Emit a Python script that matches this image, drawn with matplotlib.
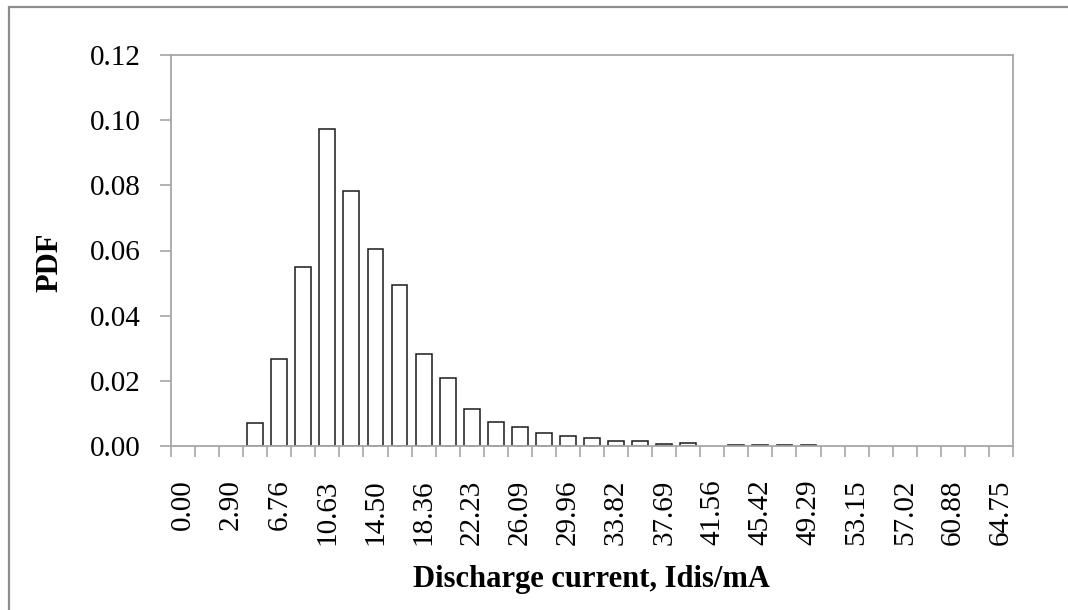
import numpy as np
import matplotlib
matplotlib.use("Agg")
import matplotlib.pyplot as plt
from matplotlib.patches import Rectangle

plt.rcParams['font.family'] = ['Liberation Serif', 'DejaVu Serif']

# PDF per class (35 classes, every other one labelled)
pdf = [0.0, 0.0, 0.0, 0.0070, 0.0267, 0.0550, 0.0974, 0.0782, 0.0605, 0.0494,
       0.0282, 0.0208, 0.0114, 0.0075, 0.0058, 0.0039, 0.0031, 0.0024, 0.0015, 0.0015,
       0.0007, 0.0010, 0.0, 0.0004, 0.0004, 0.0003, 0.0003, 0.0, 0.0, 0.0,
       0.0, 0.0, 0.0, 0.0, 0.0]
tick_labels = ['0.00', '2.90', '6.76', '10.63', '14.50', '18.36', '22.23', '26.09',
               '29.96', '33.82', '37.69', '41.56', '45.42', '49.29', '53.15', '57.02',
               '60.88', '64.75']
yticks = [0.00, 0.02, 0.04, 0.06, 0.08, 0.10, 0.12]

W, H = 1068, 610
fig = plt.figure(figsize=(W / 100, H / 100), dpi=100)
ax = fig.add_axes([171 / W, 1 - 446 / H, (1013 - 171) / W, (446 - 55) / H])

x = np.arange(len(pdf))
vals = np.array(pdf)
nz = vals > 0  # empty classes draw nothing
ax.bar(x[nz], vals[nz], width=0.66, color='white', edgecolor='#1a1a1a', linewidth=1.1)

ax.set_xlim(-0.5, len(pdf) - 0.5)
ax.set_ylim(0, 0.12)

axis_grey = '#a6a6a6'
for s in ax.spines.values():
    s.set_color(axis_grey)
    s.set_linewidth(1.3)

ax.set_yticks(yticks)
ax.set_yticklabels(['%.2f' % v for v in yticks])
ax.tick_params(axis='y', direction='out', length=8, width=1.2, color=axis_grey,
               labelsize=21, pad=14)

# labels at every other class, tick marks at class boundaries
ax.set_xticks(x[::2])
ax.set_xticklabels(tick_labels, rotation=90)
ax.set_xticks(np.arange(len(pdf) + 1) - 0.5, minor=True)
ax.tick_params(axis='x', which='major', length=0, labelsize=21, pad=24)
ax.tick_params(axis='x', which='minor', direction='out', length=8, width=1.2,
               color=axis_grey)

fig.text(591 / W, 1 - 580 / H, 'Discharge current, Idis/mA', ha='center', va='center',
         fontsize=22, fontweight='bold')
fig.text(50 / W, 1 - 262 / H, 'PDF', ha='center', va='center', rotation=90,
         fontsize=22, fontweight='bold')

# outer chart border (cut off at the right and bottom)
fig.patches.append(Rectangle((9 / W, -0.1), 1.2, 1 - 7 / H + 0.1, transform=fig.transFigure,
                             fill=False, edgecolor='#8c8c8c', linewidth=1.6))

fig.savefig('out.png', dpi=100, facecolor='white')
